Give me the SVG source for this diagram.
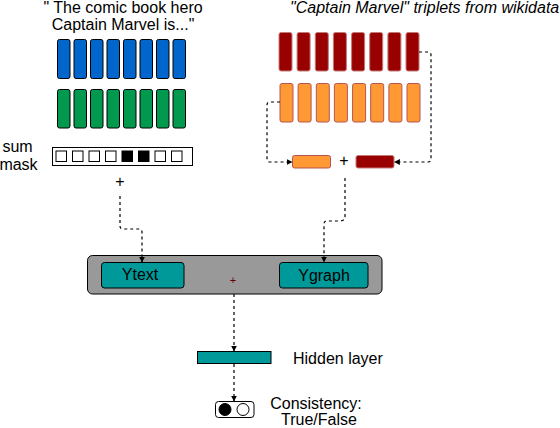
<svg xmlns="http://www.w3.org/2000/svg" width="560" height="428" viewBox="0 0 560 428">
<defs>
<style>
.t{font-family:"Liberation Sans",Arial,sans-serif;font-size:16px;fill:#000}
.blue{fill:#0066CC;stroke:#000;stroke-width:1}
.green{fill:#00994D;stroke:#000;stroke-width:1}
.dred{fill:#990000;stroke:#C47A78;stroke-width:1}
.orng{fill:#FF9933;stroke:#B85450;stroke-width:1}
.sq{fill:#fff;stroke:#000;stroke-width:1}
.sqb{fill:#000;stroke:#000;stroke-width:1}
.teal{fill:#009999;stroke:#000;stroke-width:1}
.dash{fill:none;stroke:#000;stroke-width:1.2;stroke-dasharray:3 3;marker-end:url(#ah)}
</style>
<marker id="ah" viewBox="0 0 10 10" refX="9" refY="5" markerWidth="6" markerHeight="6" orient="auto" markerUnits="userSpaceOnUse">
<path d="M0,0 L10,5 L0,10 Z" fill="#000"/>
</marker>
</defs>
<rect width="560" height="428" fill="#fff"/>

<g id="text-input">
<text class="t" x="123" y="12.5" text-anchor="middle" font-size="15.5">" The comic book hero</text>
<text class="t" x="123" y="29.5" text-anchor="middle" font-size="15.5">Captain Marvel is..."</text>
</g>

<g id="blue-embeddings">
<rect class="blue" x="57.5" y="39.5" width="12.5" height="39" rx="2"/>
<rect class="blue" x="74" y="39.5" width="12.5" height="39" rx="2"/>
<rect class="blue" x="90.5" y="39.5" width="12.5" height="39" rx="2"/>
<rect class="blue" x="107" y="39.5" width="12.5" height="39" rx="2"/>
<rect class="blue" x="123.5" y="39.5" width="12.5" height="39" rx="2"/>
<rect class="blue" x="140" y="39.5" width="12.5" height="39" rx="2"/>
<rect class="blue" x="156.5" y="39.5" width="12.5" height="39" rx="2"/>
<rect class="blue" x="173" y="39.5" width="12.5" height="39" rx="2"/>
</g>

<g id="green-embeddings">
<rect class="green" x="57.5" y="89.5" width="12.5" height="38.5" rx="2"/>
<rect class="green" x="74" y="89.5" width="12.5" height="38.5" rx="2"/>
<rect class="green" x="90.5" y="89.5" width="12.5" height="38.5" rx="2"/>
<rect class="green" x="107" y="89.5" width="12.5" height="38.5" rx="2"/>
<rect class="green" x="123.5" y="89.5" width="12.5" height="38.5" rx="2"/>
<rect class="green" x="140" y="89.5" width="12.5" height="38.5" rx="2"/>
<rect class="green" x="156.5" y="89.5" width="12.5" height="38.5" rx="2"/>
<rect class="green" x="173" y="89.5" width="12.5" height="38.5" rx="2"/>
</g>

<g id="mask">
<text class="t" x="17.5" y="152" text-anchor="middle">sum</text>
<text class="t" x="18.5" y="170" text-anchor="middle">mask</text>
<rect x="52.5" y="147.5" width="140" height="18" fill="#fff" stroke="#000" stroke-width="1"/>
<rect class="sq" x="56" y="151" width="10.5" height="10.5"/>
<rect class="sq" x="72.5" y="151" width="10.5" height="10.5"/>
<rect class="sq" x="89" y="151" width="10.5" height="10.5"/>
<rect class="sq" x="105.5" y="151" width="10.5" height="10.5"/>
<rect class="sqb" x="122" y="151" width="10.5" height="10.5"/>
<rect class="sqb" x="138.5" y="151" width="10.5" height="10.5"/>
<rect class="sq" x="155" y="151" width="10.5" height="10.5"/>
<rect class="sq" x="171.5" y="151" width="10.5" height="10.5"/>
<text class="t" x="120" y="187" text-anchor="middle" font-size="11">+</text>
</g>

<g id="graph-input">
<text class="t" x="290" y="12.5" font-style="italic" font-size="15.5">"Captain Marvel" triplets from wikidata</text>
</g>

<g id="dark-red-embeddings">
<rect class="dred" x="279" y="32.5" width="13" height="38.5" rx="2"/>
<rect class="dred" x="297.1" y="32.5" width="13" height="38.5" rx="2"/>
<rect class="dred" x="315.3" y="32.5" width="13" height="38.5" rx="2"/>
<rect class="dred" x="333.4" y="32.5" width="13" height="38.5" rx="2"/>
<rect class="dred" x="351.6" y="32.5" width="13" height="38.5" rx="2"/>
<rect class="dred" x="369.7" y="32.5" width="13" height="38.5" rx="2"/>
<rect class="dred" x="387.9" y="32.5" width="13" height="38.5" rx="2"/>
<rect class="dred" x="406" y="32.5" width="13" height="38.5" rx="2"/>
</g>

<g id="orange-embeddings">
<rect class="orng" x="280" y="83.5" width="13" height="38.5" rx="2"/>
<rect class="orng" x="298.1" y="83.5" width="13" height="38.5" rx="2"/>
<rect class="orng" x="316.3" y="83.5" width="13" height="38.5" rx="2"/>
<rect class="orng" x="334.4" y="83.5" width="13" height="38.5" rx="2"/>
<rect class="orng" x="352.6" y="83.5" width="13" height="38.5" rx="2"/>
<rect class="orng" x="370.7" y="83.5" width="13" height="38.5" rx="2"/>
<rect class="orng" x="388.9" y="83.5" width="13" height="38.5" rx="2"/>
<rect class="orng" x="407" y="83.5" width="13" height="38.5" rx="2"/>
</g>

<g id="graph-sum">
<rect class="orng" x="292.5" y="155.5" width="38" height="12.5" rx="2"/>
<text class="t" x="344" y="166" text-anchor="middle" font-size="11">+</text>
<rect class="dred" x="356" y="155.5" width="38" height="12.5" rx="2"/>
</g>

<g id="combine">
<rect x="87.5" y="255.5" width="294.5" height="38.5" rx="5" fill="#999999" stroke="#000" stroke-width="1"/>
<text x="233" y="284" text-anchor="middle" font-family="Liberation Sans,Arial,sans-serif" font-size="11" fill="#660000">+</text>
</g>

<g id="ytext">
<rect class="teal" x="101.5" y="262.5" width="82.5" height="25.5" rx="3"/>
<text class="t" x="140" y="280" text-anchor="middle" font-size="16.5">Ytext</text>
</g>

<g id="ygraph">
<rect class="teal" x="279.5" y="262.5" width="88.5" height="25.5" rx="3"/>
<text class="t" x="324" y="281" text-anchor="middle" font-size="16.5">Ygraph</text>
</g>

<g id="hidden-layer">
<rect class="teal" x="197.5" y="351.5" width="73.5" height="12" />
<text class="t" x="293" y="364">Hidden layer</text>
</g>

<g id="consistency">
<rect x="215.5" y="401.5" width="38.5" height="16" rx="3" fill="#fff" stroke="#000" stroke-width="1"/>
<circle cx="225" cy="409.5" r="6" fill="#000" stroke="#000"/>
<circle cx="243" cy="409.5" r="6" fill="#fff" stroke="#000"/>
<text class="t" x="316" y="408.5" text-anchor="middle" font-size="15">Consistency:</text>
<text class="t" x="319" y="424.5" text-anchor="middle" font-size="15">True/False</text>
</g>

<g id="connectors">
<path class="dash" d="M120,196 V226 Q120,229 123,229 H139 Q142,229 142,232 V262"/>
<path class="dash" d="M345,178 V216 Q345,221 340,221 H327 Q324,221 324,224 V262"/>
<path class="dash" d="M280,102 H270 Q267,102 267,105 V159 Q267,162 270,162 H292"/>
<path class="dash" d="M419,52 H428 Q431,52 431,55 V159 Q431,162 428,162 H394.5"/>
<path class="dash" d="M234,294 V351"/>
<path class="dash" d="M234,364 V401"/>
</g>
</svg>
